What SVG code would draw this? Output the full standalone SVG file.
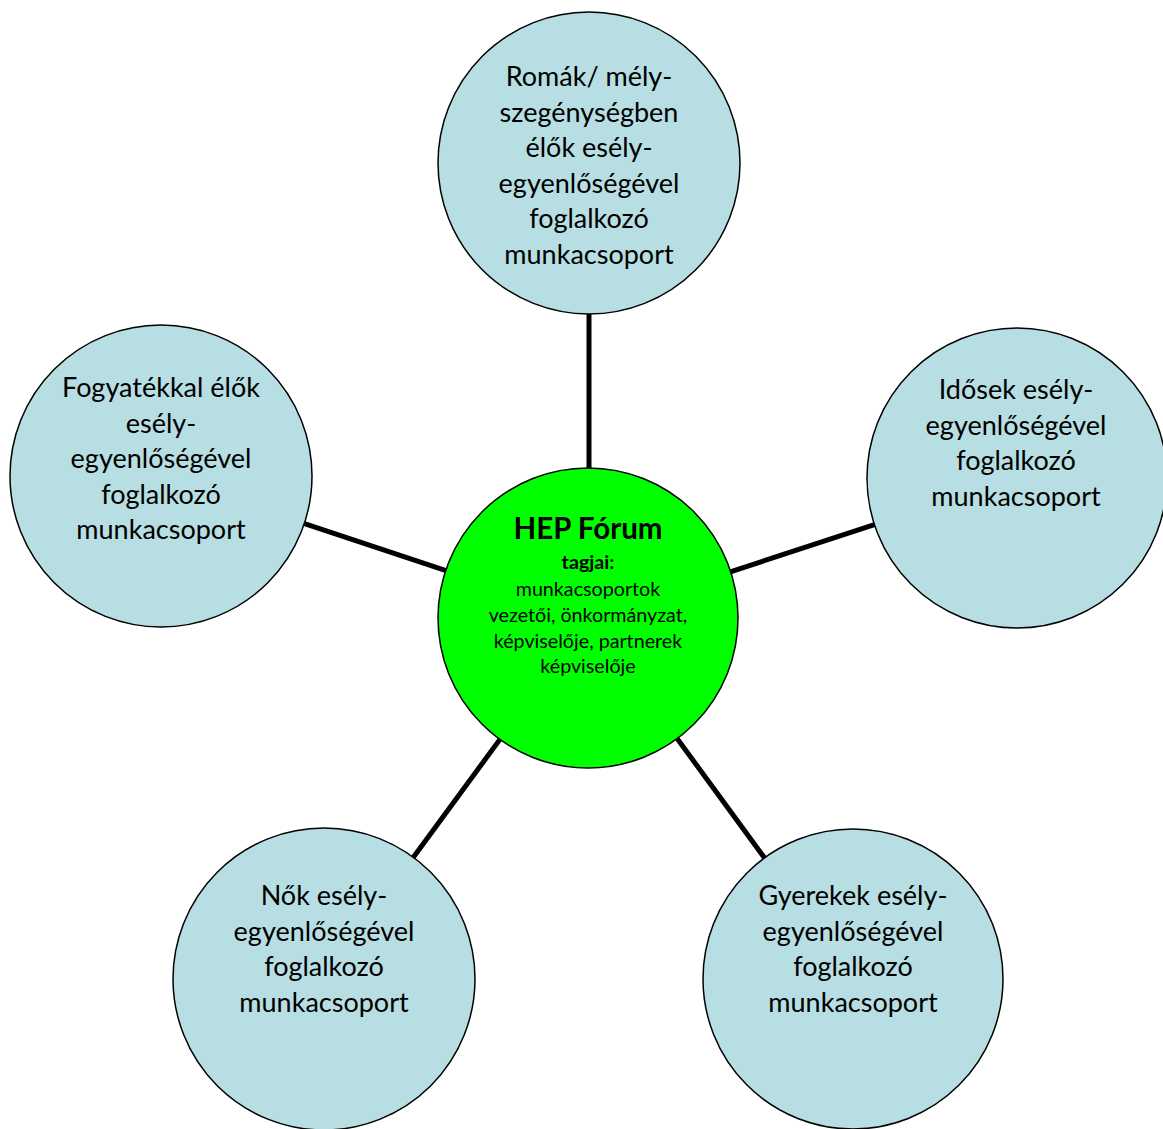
<svg xmlns="http://www.w3.org/2000/svg" width="1163" height="1129" viewBox="0 0 1163 1129">
<style>
.bg{fill:#ffffff}
.node{fill:#b7dee2;stroke:#000000;stroke-width:1.5}
.hub{fill:#00ff00;stroke:#000000;stroke-width:1.5}
.conn{stroke:#000000;stroke-width:5;fill:none}
.t{font-family:Lato,"Liberation Sans",sans-serif;font-size:27px;fill:#000000;text-anchor:middle}
.h1{font-family:Lato,"Liberation Sans",sans-serif;font-size:29.5px;font-weight:bold;fill:#000000;text-anchor:middle}
.h2{font-family:Lato,"Liberation Sans",sans-serif;font-size:19.7px;font-weight:bold;fill:#000000;text-anchor:middle}
.s{font-family:Lato,"Liberation Sans",sans-serif;font-size:19.7px;fill:#000000;text-anchor:middle}
</style>
<rect class="bg" x="0" y="0" width="1163" height="1129"/>
<g id="connectors">
<line class="conn" x1="589" y1="618" x2="589" y2="163"/>
<line class="conn" x1="589" y1="618" x2="161" y2="476"/>
<line class="conn" x1="589" y1="618" x2="1017" y2="478"/>
<line class="conn" x1="589" y1="618" x2="324" y2="979"/>
<line class="conn" x1="589" y1="618" x2="853" y2="979"/>
</g>
<g id="node-top">
<circle class="node" cx="589" cy="163" r="151"/>
<text class="t" x="589" y="86">Romák/ mély-</text>
<text class="t" x="589" y="121.5">szegénységben</text>
<text class="t" x="589" y="157">élők esély-</text>
<text class="t" x="589" y="192.5">egyenlőségével</text>
<text class="t" x="589" y="228">foglalkozó</text>
<text class="t" x="589" y="263.5">munkacsoport</text>
</g>
<g id="node-left">
<circle class="node" cx="161" cy="476" r="151"/>
<text class="t" x="161" y="397">Fogyatékkal élők</text>
<text class="t" x="161" y="432.5">esély-</text>
<text class="t" x="161" y="468">egyenlőségével</text>
<text class="t" x="161" y="503.5">foglalkozó</text>
<text class="t" x="161" y="539">munkacsoport</text>
</g>
<g id="node-right">
<circle class="node" cx="1017" cy="478" r="150"/>
<text class="t" x="1016" y="399">Idősek esély-</text>
<text class="t" x="1016" y="434.5">egyenlőségével</text>
<text class="t" x="1016" y="470">foglalkozó</text>
<text class="t" x="1016" y="505.5">munkacsoport</text>
</g>
<g id="node-bottom-left">
<circle class="node" cx="324" cy="979" r="151"/>
<text class="t" x="324" y="905">Nők esély-</text>
<text class="t" x="324" y="940.5">egyenlőségével</text>
<text class="t" x="324" y="976">foglalkozó</text>
<text class="t" x="324" y="1011.5">munkacsoport</text>
</g>
<g id="node-bottom-right">
<circle class="node" cx="853" cy="979" r="150"/>
<text class="t" x="853" y="905">Gyerekek esély-</text>
<text class="t" x="853" y="940.5">egyenlőségével</text>
<text class="t" x="853" y="976">foglalkozó</text>
<text class="t" x="853" y="1011.5">munkacsoport</text>
</g>
<g id="node-center">
<circle class="hub" cx="588" cy="618" r="150"/>
<text class="h1" x="588" y="539">HEP Fórum</text>
<text class="h2" x="588" y="569">tagjai:</text>
<text class="s" x="588" y="596">munkacsoportok</text>
<text class="s" x="588" y="621.7">vezetői, önkormányzat,</text>
<text class="s" x="588" y="647.5">képviselője, partnerek</text>
<text class="s" x="588" y="673.3">képviselője</text>
</g>
</svg>
